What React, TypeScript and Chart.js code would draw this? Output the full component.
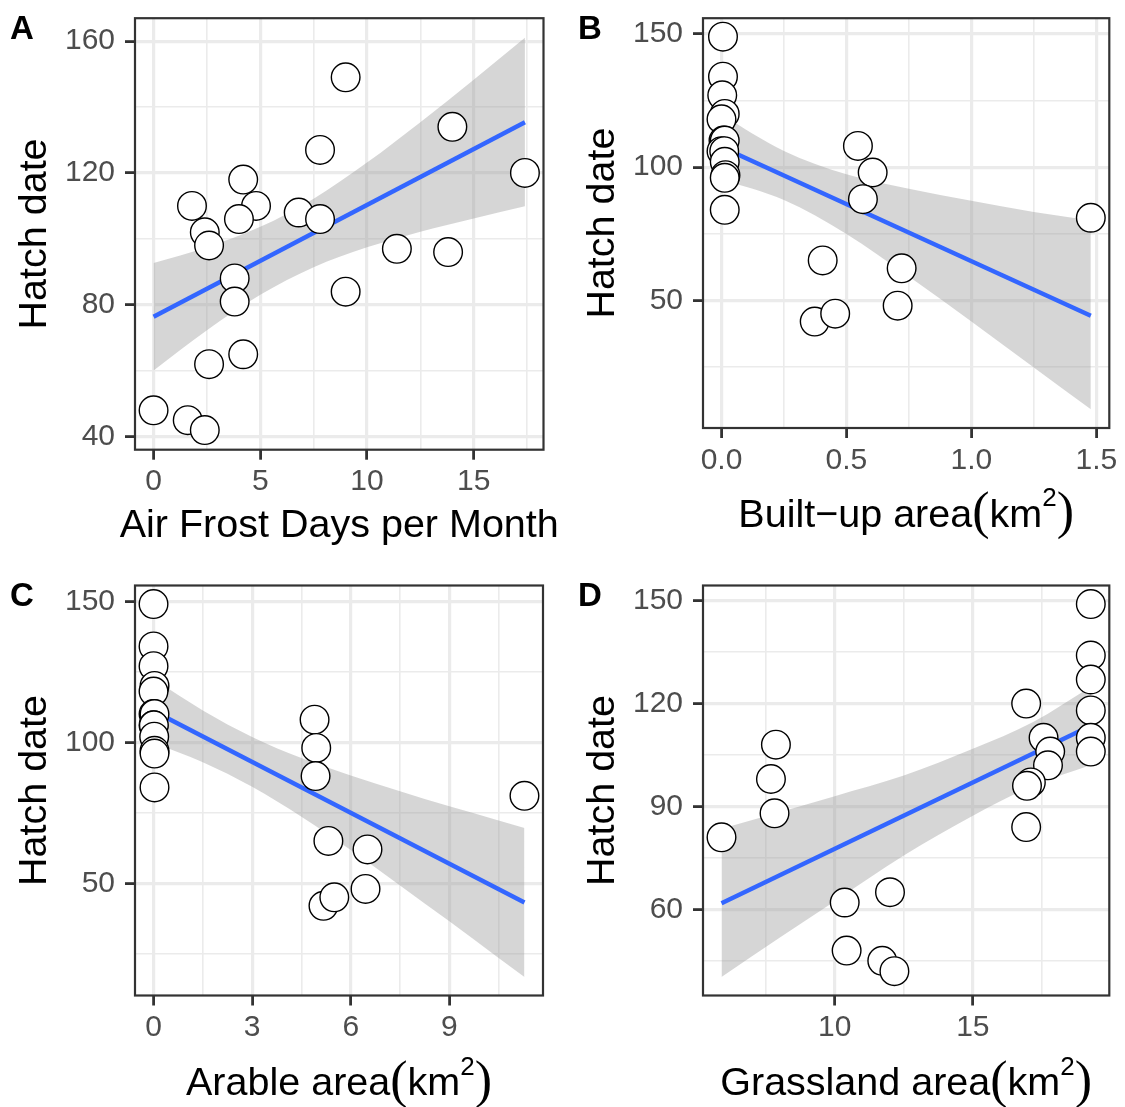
import React, { useEffect, useRef } from 'react';
import { Chart, registerables } from 'chart.js';

Chart.register(...registerables);
Chart.defaults.font.family = '"Liberation Sans", Arial, sans-serif';

// ---------------- Panel A: Air frost days ----------------
const A_FROST = [9.0, 14.0, 7.8, 17.4, 4.2, 1.8, 4.8, 6.8, 4.0, 7.8, 2.4, 2.6, 11.4, 13.8, 3.8, 3.8, 9.0, 4.2, 2.6, 0.0, 1.6, 2.4];
const A_HATCH = [149, 134, 127, 120, 118, 110, 110, 108, 106, 106, 102, 98, 97, 96, 88, 81, 84, 65, 62, 48, 45, 42];
const A_FIT_X = [0, 17.4];
const A_FIT_Y = [76.4, 135.4];
const A_BAND_X = [0, 2.5, 5, 7.5, 10, 12.5, 15, 17.4];
const A_BAND_LO = [60.1, 72.3, 83.05, 91.4, 97.45, 102.2, 106.2, 109.9];
const A_BAND_HI = [92.7, 97.5, 103.65, 112.2, 123.15, 135.4, 148.3, 161.0];
const A_XTICKS = [0, 5, 10, 15];
const A_XLABELS = ['0', '5', '10', '15'];
const A_XMINOR = [2.5, 7.5, 12.5, 17.5];
const A_YTICKS = [40, 80, 120, 160];
const A_YLABELS = ['40', '80', '120', '160'];
const A_YMINOR = [60, 100, 140];

// ---------------- Panel B: Built-up area ----------------
const B_BUILT = [0.006, 0.006, 0.003, 0.013, 0.0, 0.008, 0.013, 0.0, 0.011, 0.013, 0.016, 0.013, 0.013,
  0.546, 0.605, 0.566, 1.478, 0.405, 0.721, 0.705, 0.373, 0.455];
const B_HATCH = [149, 134, 127, 120, 118, 110, 110, 106, 106, 102, 97, 96, 84,
  108, 98, 88, 81, 65, 62, 48, 42, 45];
const B_FIT_X = [0, 1.478];
const B_FIT_Y = [107.6, 44.2];
const B_BAND_X = [0, 0.25, 0.5, 0.75, 1.0, 1.25, 1.478];
const B_BAND_LO = [95.5, 87.7, 74.95, 58.9, 42.05, 24.8, 9.05];
const B_BAND_HI = [119.7, 106.1, 97.35, 91.9, 87.35, 83.2, 80.0];
const B_XTICKS = [0, 0.5, 1.0, 1.5];
const B_XLABELS = ['0.0', '0.5', '1.0', '1.5'];
const B_XMINOR = [0.25, 0.75, 1.25];
const B_YTICKS = [50, 100, 150];
const B_YLABELS = ['50', '100', '150'];
const B_YMINOR = [25, 75, 125];

// ---------------- Panel C: Arable area ----------------
const C_ARABLE = [0.0, 0.0, 0.0, 0.03, 0.0, 0.0, 0.03, 0.0, 0.01, 0.02, 0.03, 0.03, 0.03,
  4.9, 4.95, 4.93, 11.286, 5.32, 6.51, 6.45, 5.17, 5.5];
const C_HATCH = [149, 134, 127, 120, 118, 110, 110, 106, 106, 102, 97, 96, 84,
  108, 98, 88, 81, 65, 62, 48, 42, 45];
const C_FIT_X = [0, 11.286];
const C_FIT_Y = [111.1, 43.2];
const C_BAND_X = [0, 1.5, 3, 4.5, 6, 7.5, 9, 10.5, 11.286];
const C_BAND_LO = [99.8, 92.9, 84.2, 73.6, 61.8, 49.25, 36.5, 23.5, 16.8];
const C_BAND_HI = [122.4, 111.3, 101.9, 94.4, 88.2, 82.65, 77.3, 72.3, 69.6];
const C_XTICKS = [0, 3, 6, 9];
const C_XLABELS = ['0', '3', '6', '9'];
const C_XMINOR = [1.5, 4.5, 7.5, 10.5];
const C_YTICKS = [50, 100, 150];
const C_YLABELS = ['50', '100', '150'];
const C_YMINOR = [25, 75, 125];

// ---------------- Panel D: Grassland area ----------------
const D_GRASS = [5.9, 7.87, 7.69, 7.82, 10.36, 12.0, 10.43, 11.72, 12.16,
  16.93, 17.56, 17.8, 17.72, 17.1, 16.96, 16.93,
  19.27, 19.27, 19.27, 19.27, 19.27, 19.27];
const D_HATCH = [81, 108, 98, 88, 62, 65, 48, 45, 42,
  120, 110, 106, 102, 97, 96, 84,
  149, 134, 127, 118, 110, 106];
const D_FIT_X = [5.9, 19.27];
const D_FIT_Y = [61.8, 113.5];
const D_BAND_X = [5.9, 8, 10, 12.5, 15, 17.2, 19.27];
const D_BAND_LO = [40.3, 51.7, 62.4, 75.7, 87.3, 96.1, 102.1];
const D_BAND_HI = [83.5, 88.3, 93.0, 99.0, 106.8, 114.7, 124.9];
const D_XTICKS = [10, 15];
const D_XLABELS = ['10', '15'];
const D_XMINOR = [7.5, 12.5, 17.5];
const D_YTICKS = [60, 90, 120, 150];
const D_YLABELS = ['60', '90', '120', '150'];
const D_YMINOR = [45, 75, 105, 135];

const Y_TITLE = 'Hatch date';

type TitlePart = { text: string; serif?: boolean; size: number; dy: number };

interface PanelSpec {
  letter: string;
  left: number; top: number; w: number; h: number;
  area: { l: number; t: number; r: number; b: number };
  xs: number[]; ys: number[];
  fitX: number[]; fitY: number[];
  bandX: number[]; bandLo: number[]; bandHi: number[];
  xRange: [number, number]; yRange: [number, number];
  xTicks: number[]; xLabels: string[]; xMinor: number[];
  yTicks: number[]; yLabels: string[]; yMinor: number[];
  xTitle: TitlePart[]; xTitleY: number;
  yTitleX: number;
  letterX: number; letterY: number;
}

const TITLE_SIZE = 39.5;
function areaTitle(prefix: string): TitlePart[] {
  return [
    { text: prefix, size: TITLE_SIZE, dy: 0 },
    { text: '(', serif: true, size: 52, dy: 1.5 },
    { text: 'km', size: TITLE_SIZE, dy: 0 },
    { text: '2', size: 26, dy: -20.5 },
    { text: ')', serif: true, size: 52, dy: 1.5 },
  ];
}

const PANELS: PanelSpec[] = [
  {
    letter: 'A', left: 0, top: 0, w: 562, h: 553,
    area: { l: 135, t: 18.2, r: 543.5, b: 449.7 },
    xs: A_FROST, ys: A_HATCH, fitX: A_FIT_X, fitY: A_FIT_Y,
    bandX: A_BAND_X, bandLo: A_BAND_LO, bandHi: A_BAND_HI,
    xRange: [-0.87, 18.27], yRange: [36.05, 166.95],
    xTicks: A_XTICKS, xLabels: A_XLABELS, xMinor: A_XMINOR,
    yTicks: A_YTICKS, yLabels: A_YLABELS, yMinor: A_YMINOR,
    xTitle: [{ text: 'Air Frost Days per Month', size: TITLE_SIZE, dy: 0 }], xTitleY: 536.7,
    yTitleX: 46.4, letterX: 10, letterY: 39,
  },
  {
    letter: 'B', left: 562, top: 0, w: 563, h: 553,
    area: { l: 141, t: 18.2, r: 548, b: 428 },
    xs: B_BUILT, ys: B_HATCH, fitX: B_FIT_X, fitY: B_FIT_Y,
    bandX: B_BAND_X, bandLo: B_BAND_LO, bandHi: B_BAND_HI,
    xRange: [-0.074, 1.552], yRange: [2.05, 155.95],
    xTicks: B_XTICKS, xLabels: B_XLABELS, xMinor: B_XMINOR,
    yTicks: B_YTICKS, yLabels: B_YLABELS, yMinor: B_YMINOR,
    xTitle: areaTitle('Built\u2212up area'), xTitleY: 526.7,
    yTitleX: 52, letterX: 16, letterY: 39,
  },
  {
    letter: 'C', left: 0, top: 553, w: 562, h: 554,
    area: { l: 135, t: 32.5, r: 543, b: 442.5 },
    xs: C_ARABLE, ys: C_HATCH, fitX: C_FIT_X, fitY: C_FIT_Y,
    bandX: C_BAND_X, bandLo: C_BAND_LO, bandHi: C_BAND_HI,
    xRange: [-0.564, 11.85], yRange: [10.2, 155.6],
    xTicks: C_XTICKS, xLabels: C_XLABELS, xMinor: C_XMINOR,
    yTicks: C_YTICKS, yLabels: C_YLABELS, yMinor: C_YMINOR,
    xTitle: areaTitle('Arable area'), xTitleY: 542,
    yTitleX: 46.4, letterX: 10, letterY: 52.5,
  },
  {
    letter: 'D', left: 562, top: 553, w: 563, h: 554,
    area: { l: 141, t: 32.5, r: 548, b: 442.5 },
    xs: D_GRASS, ys: D_HATCH, fitX: D_FIT_X, fitY: D_FIT_Y,
    bandX: D_BAND_X, bandLo: D_BAND_LO, bandHi: D_BAND_HI,
    xRange: [5.23, 19.94], yRange: [34.9, 154.4],
    xTicks: D_XTICKS, xLabels: D_XLABELS, xMinor: D_XMINOR,
    yTicks: D_YTICKS, yLabels: D_YLABELS, yMinor: D_YMINOR,
    xTitle: areaTitle('Grassland area'), xTitleY: 542,
    yTitleX: 52, letterX: 16, letterY: 52.5,
  },
];

const SANS = '"Liberation Sans", Arial, sans-serif';
const SERIF = '"Liberation Serif", "DejaVu Serif", serif';

const decorPlugin = {
  id: 'panelDecor',
  afterDraw(chart: any, _args: any, opts: any) {
    const spec: PanelSpec = opts.spec;
    const { ctx } = chart;
    const { left, top, right, bottom } = chart.chartArea;
    ctx.save();
    // panel border
    ctx.strokeStyle = '#333333';
    ctx.lineWidth = 2.2;
    ctx.strokeRect(left, top, right - left, bottom - top);
    // panel letter
    ctx.fillStyle = '#000000';
    ctx.textAlign = 'left';
    ctx.textBaseline = 'alphabetic';
    ctx.font = `bold 33px ${SANS}`;
    ctx.fillText(spec.letter, spec.letterX, spec.letterY);
    // y title
    ctx.save();
    ctx.translate(spec.yTitleX, (top + bottom) / 2);
    ctx.rotate(-Math.PI / 2);
    ctx.textAlign = 'center';
    ctx.font = `${TITLE_SIZE}px ${SANS}`;
    ctx.fillText(Y_TITLE, 0, 0);
    ctx.restore();
    // x title (rich)
    const parts = spec.xTitle;
    const widths = parts.map((p) => {
      ctx.font = `${p.size}px ${p.serif ? SERIF : SANS}`;
      return ctx.measureText(p.text).width;
    });
    const total = widths.reduce((a, b) => a + b, 0);
    let x = (left + right) / 2 - total / 2;
    ctx.textAlign = 'left';
    parts.forEach((p, i) => {
      ctx.font = `${p.size}px ${p.serif ? SERIF : SANS}`;
      ctx.fillText(p.text, x, spec.xTitleY + p.dy);
      x += widths[i];
    });
    ctx.restore();
  },
};

function isIn(list: number[], v: number) {
  return list.some((m) => Math.abs(m - v) < 1e-9);
}

function axisOptions(
  range: [number, number], majors: number[], labels: string[], minors: number[],
  horizontal: boolean, fitSize: number,
) {
  return {
    type: 'linear',
    position: horizontal ? 'bottom' : 'left',
    min: range[0],
    max: range[1],
    afterBuildTicks: (scale: any) => {
      const all = [...majors, ...minors].filter((v) => v >= range[0] && v <= range[1]).sort((a, b) => a - b);
      scale.ticks = all.map((v) => ({ value: v }));
    },
    afterFit: (scale: any) => {
      if (horizontal) scale.height = fitSize; else scale.width = fitSize;
      scale.paddingTop = 0; scale.paddingBottom = 0;
      scale.paddingLeft = 0; scale.paddingRight = 0;
    },
    border: { display: false },
    grid: {
      color: '#EBEBEB',
      lineWidth: (c: any) => (c.tick && isIn(majors, c.tick.value) ? 3.2 : 1.6),
      drawTicks: true,
      tickLength: 10,
      tickColor: (c: any) => (c.tick && isIn(majors, c.tick.value) ? '#333333' : 'rgba(0,0,0,0)'),
      tickWidth: (c: any) => (c.tick && isIn(majors, c.tick.value) ? 2.8 : 1),
    },
    ticks: {
      autoSkip: false,
      maxRotation: 0,
      minRotation: 0,
      color: '#4D4D4D',
      padding: horizontal ? 4.5 : 10,
      font: { size: 30, family: SANS, lineHeight: 1.2 },
      callback: (v: number) => {
        const idx = majors.findIndex((m) => Math.abs(m - v) < 1e-9);
        return idx >= 0 ? labels[idx] : '';
      },
    },
  };
}

function Panel({ spec }: { spec: PanelSpec }) {
  const ref = useRef<HTMLCanvasElement>(null);
  useEffect(() => {
    if (!ref.current) return;
    const pts = spec.xs.map((x, i) => ({ x, y: spec.ys[i] }));
    const fit = spec.fitX.map((x, i) => ({ x, y: spec.fitY[i] }));
    const hi = spec.bandX.map((x, i) => ({ x, y: spec.bandHi[i] }));
    const lo = spec.bandX.map((x, i) => ({ x, y: spec.bandLo[i] }));
    const chart = new Chart(ref.current, {
      type: 'scatter',
      data: {
        datasets: [
          {
            type: 'scatter',
            data: pts,
            order: 0,
            pointRadius: 14.3,
            pointBackgroundColor: '#FFFFFF',
            pointBorderColor: '#000000',
            pointBorderWidth: 1.4,
            clip: false,
          } as any,
          {
            type: 'line',
            data: fit,
            order: 1,
            borderColor: '#3366FF',
            borderWidth: 4.4,
            pointRadius: 0,
            fill: false,
            showLine: true,
          } as any,
          {
            type: 'line',
            data: hi,
            order: 2,
            borderWidth: 0,
            borderColor: 'rgba(0,0,0,0)',
            backgroundColor: 'rgba(153,153,153,0.4)',
            pointRadius: 0,
            fill: '+1',
            showLine: true,
            cubicInterpolationMode: 'monotone',
          } as any,
          {
            type: 'line',
            data: lo,
            order: 3,
            borderWidth: 0,
            borderColor: 'rgba(0,0,0,0)',
            pointRadius: 0,
            fill: false,
            showLine: true,
            cubicInterpolationMode: 'monotone',
          } as any,
        ],
      },
      options: {
        animation: false,
        responsive: false,
        maintainAspectRatio: false,
        devicePixelRatio: 1,
        events: [],
        layout: {
          padding: { left: 0, top: spec.area.t, right: spec.w - spec.area.r, bottom: 0 },
        },
        plugins: {
          legend: { display: false },
          tooltip: { enabled: false },
          panelDecor: { spec },
        } as any,
        scales: {
          x: axisOptions(spec.xRange, spec.xTicks, spec.xLabels, spec.xMinor, true, spec.h - spec.area.b),
          y: axisOptions(spec.yRange, spec.yTicks, spec.yLabels, spec.yMinor, false, spec.area.l),
        } as any,
      },
      plugins: [decorPlugin],
    } as any);
    return () => chart.destroy();
  }, [spec]);
  return (
    <canvas
      ref={ref}
      width={spec.w}
      height={spec.h}
      style={{ position: 'absolute', left: spec.left, top: spec.top, width: spec.w, height: spec.h }}
    />
  );
}

export default function App() {
  return (
    <div style={{ position: 'absolute', left: 0, top: 0, width: 1125, height: 1107, background: '#FFFFFF', overflow: 'hidden' }}>
      {PANELS.map((p) => (
        <Panel key={p.letter} spec={p} />
      ))}
    </div>
  );
}
